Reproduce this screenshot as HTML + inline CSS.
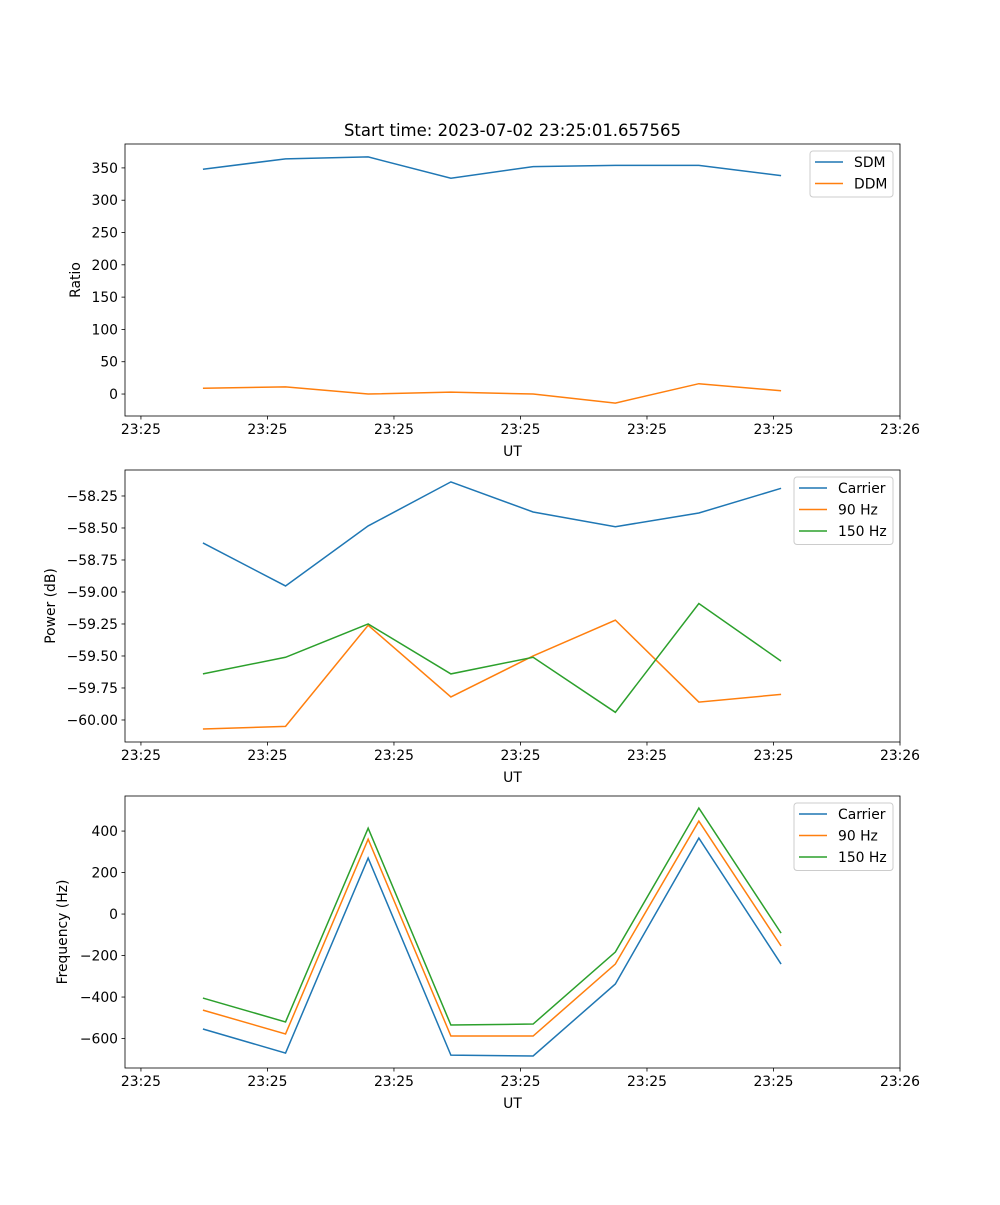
<!DOCTYPE html>
<html><head><meta charset="utf-8"><style>
html,body{margin:0;padding:0;background:#fff;}
svg text{font-family:"DejaVu Sans","Liberation Sans",sans-serif;fill:#000;}
</style></head><body>
<svg id="fig" width="1000" height="1200" viewBox="0 0 1000 1200" xmlns="http://www.w3.org/2000/svg">
<rect width="1000" height="1200" fill="#fff"/>
<text x="512.5" y="136" font-size="16.5" text-anchor="middle">Start time: 2023-07-02 23:25:01.657565</text>
</svg>
<script>
// shared x data (seconds after 23:25:00)
const times = [4.9, 11.43, 17.96, 24.5, 31.0, 37.5, 44.1, 50.6];
const xTicks = [0, 10, 20, 30, 40, 50, 60];
const xTickLabels = ["23:25","23:25","23:25","23:25","23:25","23:25","23:26"];
// panel 1
const sdm = [348, 364, 367, 334, 352, 354, 354, 338];
const ddm = [9, 11, 0, 3, 0, -14, 16, 5];
const ratioTicks = [0, 50, 100, 150, 200, 250, 300, 350];
// panel 2
const powCarrier = [-58.617, -58.953, -58.484, -58.14, -58.375, -58.49, -58.383, -58.19];
const pow90 = [-60.07, -60.05, -59.26, -59.82, -59.5, -59.22, -59.86, -59.80];
const pow150 = [-59.64, -59.51, -59.25, -59.64, -59.51, -59.94, -59.09, -59.54];
const powTicks = [-60.00, -59.75, -59.50, -59.25, -59.00, -58.75, -58.50, -58.25];
// panel 3
const freqCarrier = [-554, -670, 270, -680, -684, -337, 366, -241];
const freq90 = [-463, -578, 361, -588, -588, -241, 448, -154];
const freq150 = [-405, -520, 414, -535, -530, -183, 511, -92];
const freqTicks = [-600, -400, -200, 0, 200, 400];

const NS = "http://www.w3.org/2000/svg";
const svg = document.getElementById('fig');
const C = {blue:"#1f77b4", orange:"#ff7f0e", green:"#2ca02c"};
const L = 125, R = 900;
const xMin = -1.26, xMax = 60;
function xs(t){ return L + (t - xMin) / (xMax - xMin) * (R - L); }
function mk(tag, attrs, parent){
  const e = document.createElementNS(NS, tag);
  for (const k in attrs) e.setAttribute(k, attrs[k]);
  (parent || svg).appendChild(e);
  return e;
}
function fmtMinus(s){ return s.replace('-', '\u2212'); }

function panel(opt){
  const g = mk('g', {});
  
  
  const T = opt.top, B = opt.top + 272;
  const ys = v => B - (v - opt.yMin) / (opt.yMax - opt.yMin) * (B - T);
  opt.series.forEach(s => {
    const pts = times.map((t, i) => xs(t).toFixed(2) + ',' + ys(s.values[i]).toFixed(2)).join(' ');
    const pl = mk('polyline', {points: pts, fill: 'none', stroke: s.color, 'stroke-width': 1.5}, g);
    
    
  });
  const fr = mk('rect', {x: L, y: T, width: R - L, height: B - T, fill: 'none', stroke: '#000', 'stroke-width': 0.8}, g);
  
  
  xTicks.forEach((t, i) => {
    const x = xs(t);
    mk('line', {x1: x, x2: x, y1: B, y2: B + 3.5, stroke: '#000', 'stroke-width': 0.8}, g);
    const tx = mk('text', {x: x, y: B + 18, 'font-size': 13.9, 'text-anchor': 'middle'}, g);
    
    
    tx.textContent = xTickLabels[i];
  });
  const xl = mk('text', {x: (L + R) / 2, y: B + 40, 'font-size': 13.9, 'text-anchor': 'middle'}, g);
  
  
  xl.textContent = 'UT';
  opt.yTicks.forEach(v => {
    const y = ys(v);
    mk('line', {x1: L - 3.5, x2: L, y1: y, y2: y, stroke: '#000', 'stroke-width': 0.8}, g);
    const tx = mk('text', {x: L - 7, y: y + 5, 'font-size': 13.9, 'text-anchor': 'end'}, g);
    
    
    tx.textContent = fmtMinus(v.toFixed(opt.dec));
  });
  const yl = mk('text', {x: 0, y: 0, 'font-size': 13.9, 'text-anchor': 'middle', transform: `translate(${opt.ylx},${(T + B) / 2}) rotate(-90)`}, g);
  
  
  yl.textContent = opt.ylabel;
  const n = opt.series.length;
  const lw = opt.legW, lh = 3 + n * 21.5;
  const lx = R - 7 - lw, ly = T + 7;
  const lg = mk('g', {}, g);
  
  
  mk('rect', {x: lx, y: ly, width: lw, height: lh, rx: 3, fill: '#fff', 'fill-opacity': 0.8, stroke: '#ccc', 'stroke-width': 1}, lg);
  opt.series.forEach((s, i) => {
    const cy = ly + 11 + i * 21.5;
    const ent = mk('g', {}, lg);
    
    
    mk('line', {x1: lx + 5, x2: lx + 33, y1: cy, y2: cy, stroke: s.color, 'stroke-width': 1.5}, ent);
    const t = mk('text', {x: lx + 44, y: cy + 5, 'font-size': 13.9}, ent);
    t.textContent = s.label;
  });
}

panel({name: 'ratio-panel', top: 144, yMin: -34, yMax: 387, yTicks: ratioTicks, dec: 0, ylabel: 'Ratio', ylx: 80, legW: 83,
  series: [{key: 'sdm', label: 'SDM', values: sdm, color: C.blue}, {key: 'ddm', label: 'DDM', values: ddm, color: C.orange}]});
panel({name: 'power-panel', top: 470, yMin: -60.172, yMax: -58.047, yTicks: powTicks, dec: 2, ylabel: 'Power (dB)', ylx: 55, legW: 99,
  series: [{key: 'carrier', label: 'Carrier', values: powCarrier, color: C.blue}, {key: 'hz90', label: '90 Hz', values: pow90, color: C.orange}, {key: 'hz150', label: '150 Hz', values: pow150, color: C.green}]});
panel({name: 'frequency-panel', top: 796, yMin: -742, yMax: 569, yTicks: freqTicks, dec: 0, ylabel: 'Frequency (Hz)', ylx: 67, legW: 99,
  series: [{key: 'carrier', label: 'Carrier', values: freqCarrier, color: C.blue}, {key: 'hz90', label: '90 Hz', values: freq90, color: C.orange}, {key: 'hz150', label: '150 Hz', values: freq150, color: C.green}]});
</script>
</body></html>
